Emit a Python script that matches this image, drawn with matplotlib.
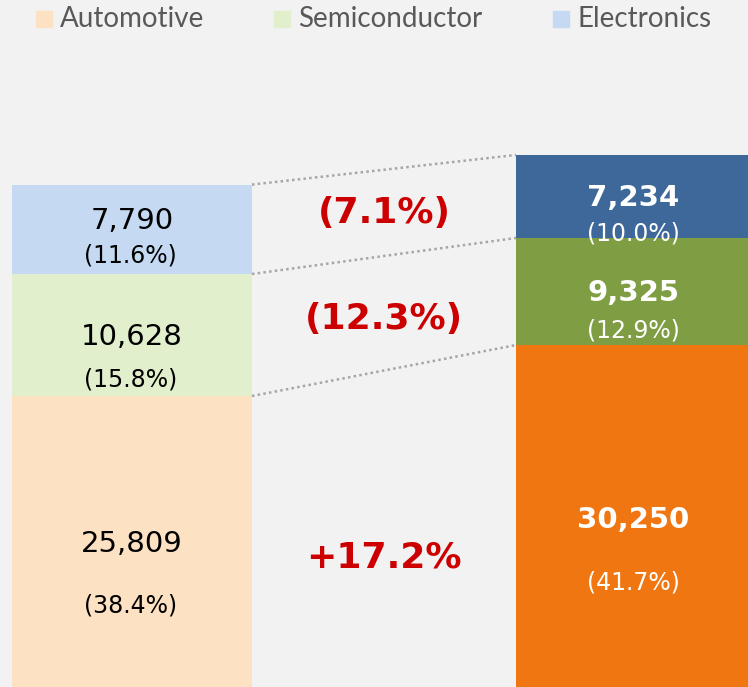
import matplotlib.pyplot as plt
from matplotlib.patches import Rectangle

categories = ["Automotive", "Semiconductor", "Electronics"]
before = [25809, 10628, 7790]
after = [30250, 9325, 7234]
before_share = ["(38.4%)", "(15.8%)", "(11.6%)"]
after_share = ["(41.7%)", "(12.9%)", "(10.0%)"]
change = ["+17.2%", "(12.3%)", "(7.1%)"]

light = ["#fde1c3", "#e2efcc", "#c5daf2"]
dark = ["#f07612", "#7f9e44", "#3d6899"]

W, H = 748, 687
fig = plt.figure(figsize=(W / 100, H / 100), dpi=100)
fig.patch.set_facecolor("#f2f2f2")
ax = fig.add_axes([0, 0, 1, 1])
ax.set_facecolor("#f2f2f2")

w = 240 / 504
b0 = b1 = 0
tops0, tops1, mids0, mids1 = [], [], [], []
for i in range(3):
    ax.bar(0, before[i], w, bottom=b0, color=light[i], label=categories[i])
    ax.bar(1, after[i], w, bottom=b1, color=dark[i])
    mids0.append(b0 + before[i] / 2)
    mids1.append(b1 + after[i] / 2)
    b0 += before[i]
    b1 += after[i]
    tops0.append(b0)
    tops1.append(b1)

for t0, t1 in zip(tops0, tops1):
    ax.plot([w / 2, 1 - w / 2], [t0, t1], color="#a6a6a6", lw=1.8,
            linestyle=(0, (1, 1.3)))

# label offsets in points (value, share)
off0 = [(0, -44), (-1.5, -32), (6, -19)]
off1 = [(-1, -46), (-1, -28), (-1, -27)]
for i in range(3):
    ax.annotate(f"{before[i]:,}", (0, mids0[i]), xytext=(0, off0[i][0]),
                textcoords="offset points", ha="center", va="center",
                fontsize=21, color="black")
    ax.annotate(before_share[i], (0, mids0[i]), xytext=(-1, off0[i][1]),
                textcoords="offset points", ha="center", va="center",
                fontsize=17, color="black")
    ax.annotate(f"{after[i]:,}", (1, mids1[i]), xytext=(-2, off1[i][0]),
                textcoords="offset points", ha="center", va="center",
                fontsize=21, color="white", fontweight="bold")
    ax.annotate(after_share[i], (1, mids1[i]), xytext=(-2, off1[i][1]),
                textcoords="offset points", ha="center", va="center",
                fontsize=17, color="white")

chg_off = [-19, -4, 0]
for i in range(3):
    ax.annotate(change[i], (0.5, (mids0[i] + mids1[i]) / 2),
                xytext=(0, chg_off[i]), textcoords="offset points",
                ha="center", va="center", fontsize=26, fontweight="bold",
                color="#cc0000")

ax.set_xlim(-132 / 504, 616 / 504)
ax.set_ylim(462, 60305)
ax.axis("off")

# legend drawn by hand along the top edge
leg_x = [36, 274, 553]
for lx, c, name in zip(leg_x, light, categories):
    fig.patches.append(Rectangle((lx / W, 1 - 27 / H), 16 / W, 16 / H,
                                 transform=fig.transFigure, color=c))
    fig.text((lx + 24) / W, 1 - 19 / H, name, ha="left", va="center",
             family="Lato", fontsize=20, color="#595959")

fig.savefig("out.png", dpi=100, facecolor=fig.get_facecolor())
